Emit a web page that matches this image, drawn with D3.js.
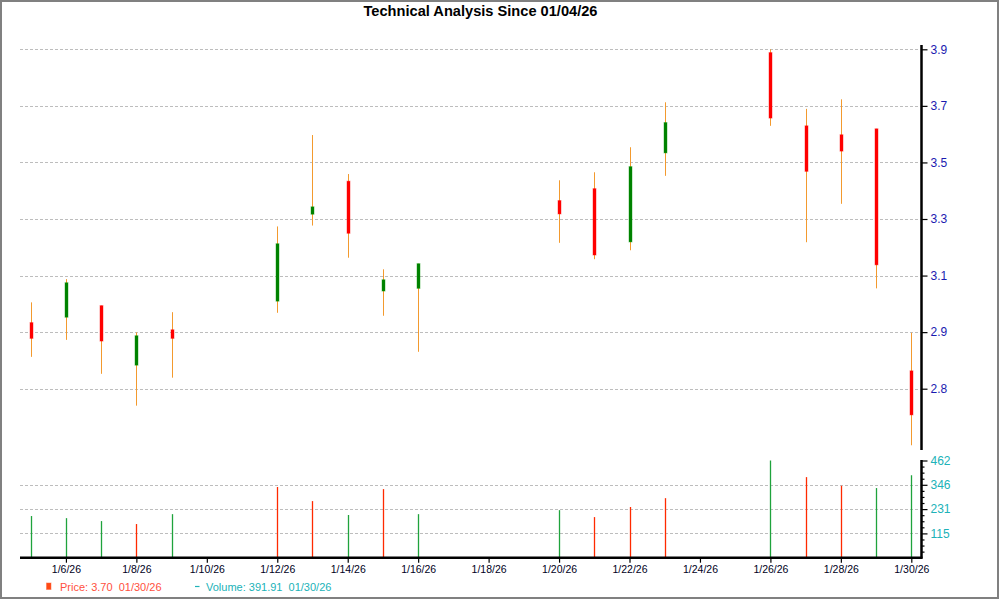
<!DOCTYPE html>
<html>
<head>
<meta charset="utf-8">
<script src="https://cdn.jsdelivr.net/npm/d3@7/dist/d3.min.js"></script>
<style>
  html, body { margin: 0; padding: 0; background: #fff; }
  svg { display: block; font-family: "Liberation Sans", Arial, sans-serif; }
</style>
</head>
<body>
<svg id="chart" width="1000" height="600"></svg>
<script>
// ---- data ----
const dates   = ["2026-01-05","2026-01-06","2026-01-07","2026-01-08","2026-01-09",
                 "2026-01-12","2026-01-13","2026-01-14","2026-01-15","2026-01-16",
                 "2026-01-20","2026-01-21","2026-01-22","2026-01-23",
                 "2026-01-26","2026-01-27","2026-01-28","2026-01-29","2026-01-30"];
const opens   = [2.972, 2.990, 3.029, 2.829, 2.948, 3.044, 3.336, 3.447, 3.078, 3.087,
                 3.382, 3.422, 3.243, 3.542, 3.879, 3.633, 3.603, 3.623, 2.810];
const highs   = [3.040, 3.118, 3.029, 2.939, 3.007, 3.295, 3.602, 3.471, 3.151, 3.170,
                 3.450, 3.477, 3.561, 3.712, 3.890, 3.690, 3.722, 3.623, 2.938];
const lows    = [2.857, 2.914, 2.800, 2.693, 2.787, 3.005, 3.298, 3.190, 2.995, 2.874,
                 3.240, 3.185, 3.215, 3.465, 3.633, 3.242, 3.371, 3.087, 2.560];
const closes  = [2.919, 3.106, 2.910, 2.928, 2.919, 3.237, 3.361, 3.272, 3.116, 3.170,
                 3.337, 3.199, 3.496, 3.644, 3.659, 3.480, 3.548, 3.166, 2.662];
const volumes = [198, 188, 174, 160, 207, 336, 269, 203, 326, 207,
                 226, 193, 241, 283, 462, 383, 342, 331, 391.91];
const volumeDir = ["up","up","up","down","up","down","down","up","down","up",
                   "up","down","down","down","up","down","down","up","up"];

const priceTicks      = [2.75, 2.94, 3.13, 3.32, 3.51, 3.70, 3.89];
const priceTickLabels = ["2.8","2.9","3.1","3.3","3.5","3.7","3.9"];
const volumeTicks      = [115.5, 231, 346.5, 462];
const volumeTickLabels = ["115","231","346","462"];
const xTickDates = ["2026-01-06","2026-01-08","2026-01-10","2026-01-12","2026-01-14",
                    "2026-01-16","2026-01-18","2026-01-20","2026-01-22","2026-01-24",
                    "2026-01-26","2026-01-28","2026-01-30"];

const titleText  = "Technical Analysis Since 01/04/26";
const priceLegend  = "Price: 3.70  01/30/26";
const volumeLegend = "Volume: 391.91  01/30/26";

// ---- setup ----
const parse = d3.timeParse("%Y-%m-%d");
const fmt = d3.timeFormat("%-m/%-d/%y");
const rows = dates.map((d, i) => ({
  date: parse(d), open: opens[i], high: highs[i], low: lows[i], close: closes[i],
  vol: volumes[i], vdir: volumeDir[i]
}));

const svg = d3.select("#chart");
const plotLeft = 20, axisX = 921.5;

svg.append("rect").attr("x", 0).attr("y", 0).attr("width", 1000).attr("height", 600).attr("fill", "#fff");
svg.append("rect").attr("x", 1).attr("y", 1).attr("width", 997).attr("height", 597)
  .attr("fill", "none").attr("stroke", "#808080").attr("stroke-width", 2);

const x = d3.scaleTime().domain([parse("2026-01-05"), parse("2026-01-30")]).range([30.7, 911.3]);
const y = d3.scaleLinear().domain([2.75, 3.89]).range([388.7, 49.3]);
const vy = d3.scaleLinear().domain([0, 462]).range([557.7, 460.5]);

// title
svg.append("text").attr("x", 480.5).attr("y", 16).attr("text-anchor", "middle")
  .attr("font-size", 15).attr("font-weight", "bold").attr("fill", "#000")
  .attr("textLength", 234).attr("lengthAdjust", "spacingAndGlyphs")
  .text(titleText);

// grid lines
svg.append("g").selectAll("line").data(priceTicks).join("line")
  .attr("x1", plotLeft).attr("x2", axisX - 1)
  .attr("y1", d => Math.round(y(d)) + 0.5).attr("y2", d => Math.round(y(d)) + 0.5)
  .attr("stroke", "#bdbdbd").attr("stroke-dasharray", "3,2").attr("stroke-width", 1);
svg.append("g").selectAll("line").data(volumeTicks.slice(0, 3)).join("line")
  .attr("x1", plotLeft).attr("x2", axisX - 1)
  .attr("y1", d => Math.round(vy(d)) + 0.5).attr("y2", d => Math.round(vy(d)) + 0.5)
  .attr("stroke", "#bdbdbd").attr("stroke-dasharray", "3,2").attr("stroke-width", 1);

// candles
const cg = svg.append("g");
cg.selectAll("line.wick").data(rows).join("line").attr("class", "wick")
  .attr("x1", d => Math.round(x(d.date)) + 0.5).attr("x2", d => Math.round(x(d.date)) + 0.5)
  .attr("y1", d => y(d.high)).attr("y2", d => y(d.low))
  .attr("stroke", "#f39a2e").attr("stroke-width", 1);
cg.selectAll("rect.body").data(rows).join("rect").attr("class", "body")
  .attr("x", d => Math.round(x(d.date)) - 1)
  .attr("width", 3)
  .attr("y", d => y(Math.max(d.open, d.close)))
  .attr("height", d => Math.max(1, Math.abs(y(d.open) - y(d.close))))
  .attr("fill", d => d.close >= d.open ? "#008000" : "#ff0000")
  .attr("stroke", d => d.close >= d.open ? "rgba(0,150,0,0.4)" : "rgba(255,0,0,0.4)")
  .attr("stroke-width", 1);

// volume bars
svg.append("g").selectAll("line").data(rows).join("line")
  .attr("x1", d => Math.round(x(d.date)) + 0.5).attr("x2", d => Math.round(x(d.date)) + 0.5)
  .attr("y1", vy(0)).attr("y2", d => vy(d.vol))
  .attr("stroke", d => d.vdir === "up" ? "#1fa33c" : "#ff2a00").attr("stroke-width", 1.3);

// price axis
const pAxis = d3.axisRight(y).tickValues(priceTicks)
  .tickFormat((d, i) => priceTickLabels[i]).tickSize(6).tickPadding(3);
const pg = svg.append("g").attr("transform", `translate(${axisX},0)`).call(pAxis);
pg.select(".domain").remove();
pg.selectAll(".tick line").attr("stroke", "#000").attr("stroke-width", 1.2);
pg.selectAll(".tick text").attr("font-size", 12).attr("fill", "#1a1ab0")
  .attr("font-family", "'Liberation Sans', Arial, sans-serif");
svg.append("line").attr("x1", axisX).attr("x2", axisX).attr("y1", 45).attr("y2", 450)
  .attr("stroke", "#000").attr("stroke-width", 2.5);

// volume axis
const vAxis = d3.axisRight(vy).tickValues(volumeTicks)
  .tickFormat((d, i) => volumeTickLabels[i]).tickSize(6).tickPadding(3);
const vg = svg.append("g").attr("transform", `translate(${axisX},0)`).call(vAxis);
vg.select(".domain").remove();
vg.selectAll(".tick line").attr("stroke", "#000").attr("stroke-width", 1.2);
vg.selectAll(".tick text").attr("font-size", 12).attr("fill", "#20b2b8")
  .attr("font-family", "'Liberation Sans', Arial, sans-serif");
const minorV = d3.range(1, 16).map(k => k * 462 / 16).filter(v => !volumeTicks.some(t => Math.abs(t - v) < 1));
const mvAxis = d3.axisRight(vy).tickValues(minorV).tickFormat("").tickSize(3);
const mvg = svg.append("g").attr("transform", `translate(${axisX},0)`).call(mvAxis);
mvg.select(".domain").remove();
mvg.selectAll(".tick line").attr("stroke", "#000").attr("stroke-width", 1.2);
svg.append("line").attr("x1", axisX).attr("x2", axisX).attr("y1", 460).attr("y2", 558.5)
  .attr("stroke", "#000").attr("stroke-width", 2.5);

// x axis
const xAxis = d3.axisBottom(x).tickValues(xTickDates.map(parse)).tickFormat(fmt)
  .tickSize(5).tickPadding(3);
const xg = svg.append("g").attr("transform", "translate(0,557.7)").call(xAxis);
xg.select(".domain").remove();
xg.selectAll(".tick line").attr("stroke", "#000").attr("stroke-width", 1.2);
xg.selectAll(".tick text").attr("font-size", 10.5).attr("fill", "#000022")
  .attr("font-family", "'Liberation Sans', Arial, sans-serif");
svg.append("line").attr("x1", plotLeft).attr("x2", axisX + 1).attr("y1", 557.7).attr("y2", 557.7)
  .attr("stroke", "#000").attr("stroke-width", 2.5);

// legend
svg.append("rect").attr("x", 46.5).attr("y", 583).attr("width", 4.5).attr("height", 6.5)
  .attr("fill", "#ff4a14").attr("stroke", "rgba(255,100,60,0.5)").attr("stroke-width", 1);
svg.append("text").attr("x", 60).attr("y", 591).attr("font-size", 11)
  .attr("fill", "#ff5040").style("white-space", "pre").text(priceLegend);
svg.append("line").attr("x1", 195).attr("x2", 199.5).attr("y1", 586.5).attr("y2", 586.5)
  .attr("stroke", "#20b2b8").attr("stroke-width", 1.2);
svg.append("text").attr("x", 206).attr("y", 591).attr("font-size", 11)
  .attr("fill", "#20b2b8").style("white-space", "pre").text(volumeLegend);
</script>
</body>
</html>
